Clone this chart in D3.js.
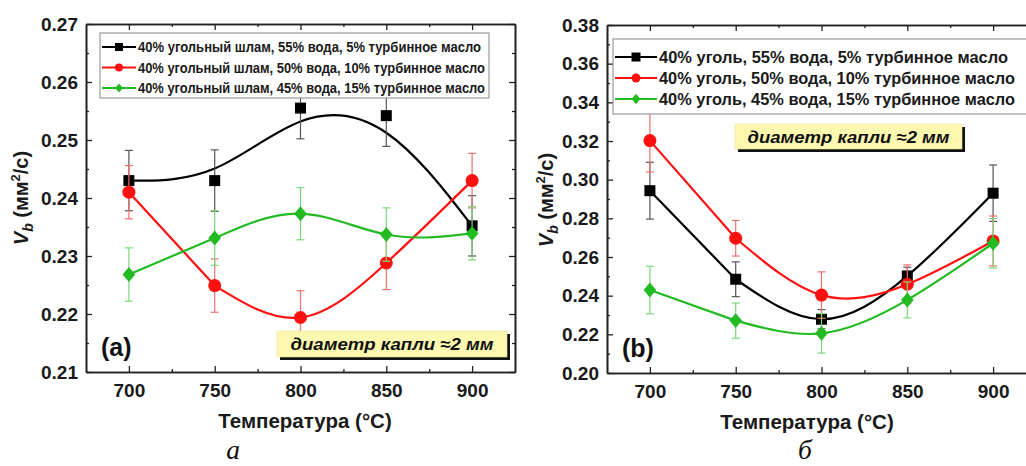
<!DOCTYPE html>
<html>
<head>
<meta charset="utf-8">
<script src="https://cdn.jsdelivr.net/npm/d3@7"></script>
<style>
  body { margin: 0; background: #fff; }
  svg { display: block; }
</style>
</head>
<body>
<svg id="chart" width="1026" height="466" font-family="'Liberation Sans', Arial, sans-serif"></svg>
<script>
// ---------- data ----------
const temperatures = [700, 750, 800, 850, 900];
const xTickValues = [700, 750, 800, 850, 900];

// panel (a): coal sludge slurries
const aLabels = [
  "40% угольный шлам, 55% вода, 5% турбинное масло",
  "40% угольный шлам, 50% вода, 10% турбинное масло",
  "40% угольный шлам, 45% вода, 15% турбинное масло"
];
const aBlack = [0.2430, 0.2430, 0.2555, 0.2542, 0.2352];
const aBlackErr = [0.0052, 0.0053, 0.0053, 0.0053, 0.0052];
const aRed = [0.2410, 0.2249, 0.2194, 0.2288, 0.2430];
const aRedErr = [0.0046, 0.0046, 0.0046, 0.0046, 0.0047];
const aGreen = [0.2268, 0.2331, 0.2373, 0.2337, 0.2339];
const aGreenErr = [0.0046, 0.0047, 0.0045, 0.0046, 0.0046];
const aYTicks = [0.21, 0.22, 0.23, 0.24, 0.25, 0.26, 0.27];

// panel (b): coal slurries
const bLabels = [
  "40% уголь, 55% вода, 5% турбинное масло",
  "40% уголь, 50% вода, 10% турбинное масло",
  "40% уголь, 45% вода, 15% турбинное масло"
];
const bBlack = [0.2943, 0.2485, 0.2278, 0.2502, 0.2930];
const bBlackErr = [0.0147, 0.0090, 0.0050, 0.0045, 0.0146];
const bRed = [0.3202, 0.2697, 0.2403, 0.2459, 0.2683];
const bRedErr = [0.0162, 0.0092, 0.0120, 0.0100, 0.0129];
const bGreen = [0.2429, 0.2271, 0.2205, 0.2378, 0.2671];
const bGreenErr = [0.0123, 0.0091, 0.0102, 0.0093, 0.0128];
const bYTicks = [0.20, 0.22, 0.24, 0.26, 0.28, 0.30, 0.32, 0.34, 0.36, 0.38];

const annotationText = "диаметр капли ≈2 мм";
const xTitle = "Температура (°C)";

// ---------- styles ----------
const COLORS = { black: "#000000", red: "#ff1010", green: "#22bb22" };
const ERR_COLORS = { black: "#555555", red: "#f07070", green: "#7bd87b" };

const svg = d3.select("#chart");

function markerPath(shape, size) {
  const s = size / 2;
  if (shape === "square") return `M${-s},${-s}H${s}V${s}H${-s}Z`;
  if (shape === "circle") return d3.symbol(d3.symbolCircle, Math.PI * s * s)();
  // diamond
  const d = s * 1.15;
  return `M0,${-d}L${d * 0.85},0L0,${d}L${-d * 0.85},0Z`;
}

function drawPanel(cfg) {
  const g = svg.append("g");
  const x = d3.scaleLinear().domain([675, 925]).range([cfg.left, cfg.left + 429]);
  const y = d3.scaleLinear().domain(cfg.yDomain).range([cfg.bottom, cfg.top]);

  // series: curve segments, error bars, markers
  cfg.series.forEach(s => {
    const pts = temperatures.map((t, i) => [x(t), y(s.values[i])]);
    let d;
    if (s.curve === "basis") {
      d = d3.line().curve(d3.curveBasis)(pts);
    } else {
      d = d3.line()(pts.slice(0, 2)) + d3.line().curve(d3.curveNatural)(pts.slice(1));
    }
    g.append("path").attr("d", d).attr("fill", "none")
      .attr("stroke", COLORS[s.color]).attr("stroke-width", 2.2);

    const eb = g.append("g").attr("stroke", ERR_COLORS[s.color]).attr("stroke-width", 1.2);
    temperatures.forEach((t, i) => {
      const cx = x(t), y1 = y(s.values[i] + s.err[i]), y2 = y(s.values[i] - s.err[i]);
      eb.append("line").attr("x1", cx).attr("x2", cx).attr("y1", y1).attr("y2", y2);
      eb.append("line").attr("x1", cx - 4).attr("x2", cx + 4).attr("y1", y1).attr("y2", y1);
      eb.append("line").attr("x1", cx - 4).attr("x2", cx + 4).attr("y1", y2).attr("y2", y2);
    });

    g.append("g").selectAll("path").data(s.values).join("path")
      .attr("d", markerPath(s.shape, s.size))
      .attr("transform", (v, i) => `translate(${x(temperatures[i])},${y(v)})`)
      .attr("fill", COLORS[s.color]);
  });

  // axes: ticks on all sides, pointing inward
  const majorY = cfg.yTicks;
  const minorY = d3.range(cfg.yDomain[0], cfg.yDomain[1] + 1e-9, cfg.yMinor)
    .filter(v => !majorY.some(m => Math.abs(m - v) < 1e-9));
  const minorX = [725, 775, 825, 875];

  const axes = g.append("g").attr("class", "axes");
  axes.append("g").attr("transform", `translate(0,${cfg.bottom})`)
    .call(d3.axisBottom(x).tickValues(xTickValues).tickSize(-6).tickSizeOuter(0).tickPadding(12).tickFormat(d3.format("d")));
  axes.append("g").attr("transform", `translate(0,${cfg.bottom})`)
    .call(d3.axisBottom(x).tickValues(minorX).tickSize(-3).tickSizeOuter(0).tickFormat(""));
  axes.append("g").attr("transform", `translate(0,${cfg.top})`)
    .call(d3.axisTop(x).tickValues(xTickValues).tickSize(-6).tickSizeOuter(0).tickFormat(""));
  axes.append("g").attr("transform", `translate(0,${cfg.top})`)
    .call(d3.axisTop(x).tickValues(minorX).tickSize(-3).tickSizeOuter(0).tickFormat(""));
  axes.append("g").attr("transform", `translate(${cfg.left},0)`)
    .call(d3.axisLeft(y).tickValues(majorY).tickSize(-6).tickSizeOuter(0).tickPadding(8).tickFormat(d3.format(".2f")));
  axes.append("g").attr("transform", `translate(${cfg.left},0)`)
    .call(d3.axisLeft(y).tickValues(minorY).tickSize(-3).tickSizeOuter(0).tickFormat(""));
  axes.append("g").attr("transform", `translate(${cfg.left + 429},0)`)
    .call(d3.axisRight(y).tickValues(majorY).tickSize(-6).tickSizeOuter(0).tickFormat(""));
  axes.append("g").attr("transform", `translate(${cfg.left + 429},0)`)
    .call(d3.axisRight(y).tickValues(minorY).tickSize(-3).tickSizeOuter(0).tickFormat(""));
  axes.selectAll("g").attr("font-family", null);
  axes.selectAll("path.domain").attr("stroke", "#222").attr("stroke-width", 1.6);
  axes.selectAll(".tick line").attr("stroke", "#222").attr("stroke-width", 1.3);
  axes.selectAll(".tick text").attr("font-size", 19).attr("font-weight", "bold").attr("fill", "#1a1a1a");

  // axis titles
  g.append("text").attr("x", cfg.xTitleX).attr("y", cfg.bottom + 56)
    .attr("text-anchor", "middle").attr("font-size", 20.5).attr("font-weight", "bold").attr("fill", "#1a1a1a")
    .text(xTitle);
  const yt = g.append("text")
    .attr("transform", `translate(${cfg.yTitleX},${cfg.yTitleY}) rotate(-90)`)
    .attr("text-anchor", "middle").attr("font-size", 20).attr("font-weight", "bold").attr("fill", "#1a1a1a");
  yt.append("tspan").attr("font-style", "italic").text("V");
  yt.append("tspan").attr("font-size", 14).attr("dy", 5).attr("font-style", "italic").text("b");
  yt.append("tspan").attr("dy", -5).text(" (мм");
  yt.append("tspan").attr("font-size", 13).attr("dy", -8).text("2");
  yt.append("tspan").attr("dy", 8).text("/с)");

  // panel tag
  g.append("text").attr("x", cfg.left + 15).attr("y", cfg.bottom - 16)
    .attr("font-size", 25).attr("font-weight", "bold").attr("fill", "#111").text(cfg.tag);

  // annotation box with drop shadow
  const ab = cfg.annot;
  g.append("rect").attr("x", ab.x + 3).attr("y", ab.y + 3).attr("width", ab.w).attr("height", ab.h).attr("fill", "#111");
  g.append("rect").attr("x", ab.x).attr("y", ab.y).attr("width", ab.w).attr("height", ab.h)
    .attr("fill", "#fdf8b0").attr("stroke", "#e8e0a0").attr("stroke-width", 0.6);
  g.append("text").attr("x", ab.x + ab.w / 2).attr("y", ab.y + ab.h / 2 + 6)
    .attr("text-anchor", "middle").attr("font-size", 17).attr("font-weight", "bold").attr("font-style", "italic")
    .attr("textLength", ab.textW).attr("lengthAdjust", "spacingAndGlyphs")
    .attr("fill", "#111").text(annotationText);

  // legend
  const lg = cfg.legend;
  g.append("rect").attr("x", lg.x).attr("y", lg.y).attr("width", lg.w).attr("height", lg.h)
    .attr("fill", "#fff").attr("stroke", "#9a9a9a").attr("stroke-width", 1.2);
  cfg.series.forEach((s, i) => {
    const ry = lg.y + lg.firstRow + i * lg.rowStep;
    g.append("line").attr("x1", lg.x + 2).attr("x2", lg.x + 2 + lg.sample).attr("y1", ry).attr("y2", ry)
      .attr("stroke", COLORS[s.color]).attr("stroke-width", 2.2);
    g.append("path").attr("d", markerPath(s.shape, lg.marker))
      .attr("transform", `translate(${lg.x + 2 + lg.sample / 2},${ry})`).attr("fill", COLORS[s.color]);
    g.append("text").attr("x", lg.x + 4 + lg.sample).attr("y", ry + lg.fontSize * 0.36)
      .attr("font-size", lg.fontSize).attr("font-weight", "bold").attr("fill", "#1a1a1a")
      .attr("textLength", lg.textW[i]).attr("lengthAdjust", "spacingAndGlyphs")
      .text(cfg.labels[i]);
  });

  // sub-figure letter
  svg.append("text").attr("x", cfg.letterX).attr("y", 459).attr("text-anchor", "middle")
    .attr("font-family", "'Liberation Serif', 'Times New Roman', serif").attr("font-style", "italic")
    .attr("font-size", 27.5).attr("fill", "#111").text(cfg.letter);
}

drawPanel({
  left: 86, top: 24, bottom: 372, yDomain: [0.21, 0.27], yTicks: aYTicks, yMinor: 0.005,
  series: [
    { values: aBlack, err: aBlackErr, color: "black", shape: "square", size: 11, curve: "basis" },
    { values: aRed, err: aRedErr, color: "red", shape: "circle", size: 13, curve: "spline" },
    { values: aGreen, err: aGreenErr, color: "green", shape: "diamond", size: 13, curve: "spline" }
  ],
  labels: aLabels, tag: "(a)", letter: "а", letterX: 233,
  xTitleX: 305, yTitleX: 28, yTitleY: 198,
  annot: { x: 277, y: 331, w: 230, h: 26, textW: 203 },
  legend: { x: 100, y: 33, w: 389, h: 65, firstRow: 14, rowStep: 20.5, sample: 34, marker: 8, fontSize: 14.5,
            textW: [343, 347, 347] }
});

drawPanel({
  left: 607, top: 25, bottom: 373, yDomain: [0.20, 0.38], yTicks: bYTicks, yMinor: 0.01,
  series: [
    { values: bBlack, err: bBlackErr, color: "black", shape: "square", size: 11, curve: "spline" },
    { values: bRed, err: bRedErr, color: "red", shape: "circle", size: 13, curve: "spline" },
    { values: bGreen, err: bGreenErr, color: "green", shape: "diamond", size: 13, curve: "spline" }
  ],
  labels: bLabels, tag: "(b)", letter: "б", letterX: 805,
  xTitleX: 807, yTitleX: 553, yTitleY: 200,
  annot: { x: 735, y: 124, w: 227, h: 25, textW: 202 },
  legend: { x: 613, y: 39, w: 420, h: 75, firstRow: 18, rowStep: 21, sample: 42, marker: 9, fontSize: 16.5,
            textW: [349, 356, 356] }
});
</script>
</body>
</html>
